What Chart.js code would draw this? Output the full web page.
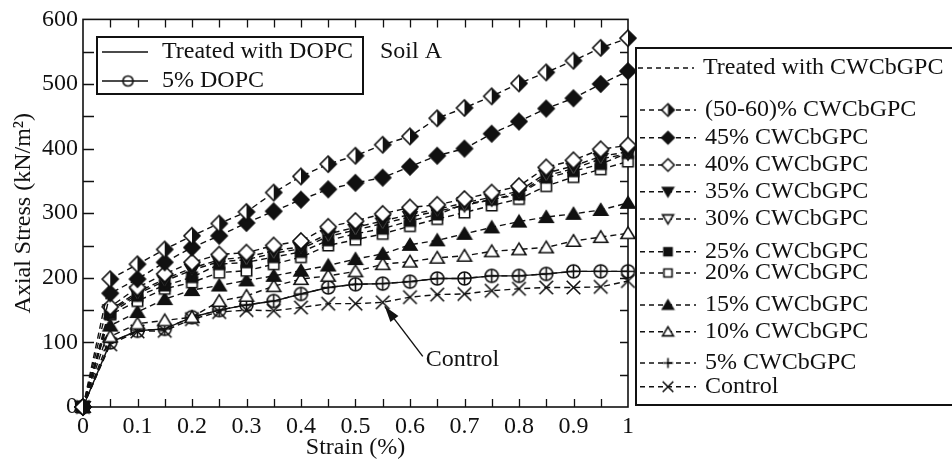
<!DOCTYPE html>
<html>
<head>
<meta charset="utf-8">
<script src="https://cdn.jsdelivr.net/npm/chart.js@4.4.1/dist/chart.umd.min.js"></script>
<style>
  html, body { margin: 0; padding: 0; background: #fff; }
</style>
</head>
<body>
<canvas id="grafico" width="952" height="465"></canvas>
<script>
// dados (Soil A)
const strain = [0, 0.05, 0.1, 0.15, 0.2, 0.25, 0.3, 0.35, 0.4, 0.45, 0.5, 0.55, 0.6, 0.65, 0.7, 0.75, 0.8, 0.85, 0.9, 0.95, 1];
const cw5060 = [0, 198, 221, 244, 265, 284, 302, 332, 357, 376, 389, 406, 419, 447, 463, 481, 501, 518, 536, 556, 571];
const cw45 = [0, 176, 198, 224, 247, 265, 285, 303, 321, 337, 347, 355, 372, 389, 400, 423, 442, 462, 478, 500, 520];
const cw40 = [0, 155, 185, 206, 224, 236, 239, 250, 257, 279, 288, 299, 309, 313, 322, 332, 342, 371, 382, 399, 405];
const cw35 = [0, 150, 178, 198, 215, 228, 232, 242, 248, 268, 278, 288, 298, 306, 316, 325, 334, 362, 373, 388, 395];
const cw30 = [0, 148, 175, 195, 212, 225, 228, 238, 245, 264, 274, 284, 294, 303, 312, 321, 331, 358, 369, 384, 392];
const cw25 = [0, 145, 172, 188, 201, 221, 224, 232, 240, 258, 268, 276, 288, 298, 314, 321, 329, 355, 365, 376, 393];
const cw20 = [0, 143, 164, 183, 193, 208, 211, 221, 232, 250, 259, 268, 280, 291, 301, 312, 322, 342, 356, 368, 380];
const cw15 = [0, 126, 147, 167, 181, 188, 196, 203, 211, 219, 229, 237, 251, 258, 268, 278, 287, 294, 299, 305, 316];
const cw10 = [0, 109, 129, 134, 139, 164, 172, 187, 198, 203, 210, 221, 225, 231, 234, 241, 244, 247, 257, 263, 269];
const cw5 = [0, 100, 118, 121, 139, 150, 158, 164, 175, 185, 190, 191, 194, 199, 199, 203, 203, 206, 210, 210, 210];
const controle = [0, 97, 117, 118, 136, 147, 150, 149, 154, 160, 160, 162, 170, 174, 175, 180, 183, 185, 185, 186, 195];
const dopc5 = [0, 100, 118, 121, 139, 150, 158, 164, 175, 185, 190, 191, 194, 199, 199, 203, 203, 206, 210, 210, 210];

const rotulosX = ['0', '0.1', '0.2', '0.3', '0.4', '0.5', '0.6', '0.7', '0.8', '0.9', '1'];
const rotulosY = ['0', '100', '200', '300', '400', '500', '600'];

const cor = '#111';
const fonte = "'Liberation Serif', 'Times New Roman', serif";

// desenha os marcadores num canvas pequeno
function marcador(forma, cheio, r) {
    const s = Math.ceil(r * 2 + 4);
    const c = document.createElement('canvas');
    c.width = s;
    c.height = s;
    const g = c.getContext('2d');
    g.translate(s / 2, s / 2);
    g.lineWidth = 1.6;
    g.strokeStyle = cor;
    g.fillStyle = cheio ? cor : '#fff';
    g.beginPath();
    if (forma === 'losango' || forma === 'meio') {
        g.moveTo(0, -r); g.lineTo(r, 0); g.lineTo(0, r); g.lineTo(-r, 0); g.closePath();
        g.fill();
        if (forma === 'meio') {
            g.save();
            g.fillStyle = cor;
            g.beginPath();
            g.moveTo(0, -r); g.lineTo(r, 0); g.lineTo(0, r); g.closePath();
            g.fill();
            g.restore();
            g.beginPath();
            g.moveTo(0, -r); g.lineTo(r, 0); g.lineTo(0, r); g.lineTo(-r, 0); g.closePath();
        }
        g.stroke();
    } else if (forma === 'triCima') {
        g.moveTo(0, -r * 0.9); g.lineTo(r, r * 0.75); g.lineTo(-r, r * 0.75); g.closePath();
        g.fill(); g.stroke();
    } else if (forma === 'triBaixo') {
        g.moveTo(0, r * 0.9); g.lineTo(r, -r * 0.75); g.lineTo(-r, -r * 0.75); g.closePath();
        g.fill(); g.stroke();
    } else if (forma === 'quadrado') {
        const q = r * 0.8;
        g.rect(-q, -q, q * 2, q * 2);
        g.fill(); g.stroke();
    } else if (forma === 'circulo') {
        g.arc(0, 0, r, 0, Math.PI * 2);
        g.stroke();
    } else if (forma === 'mais') {
        g.moveTo(-r, 0); g.lineTo(r, 0); g.moveTo(0, -r); g.lineTo(0, r);
        g.stroke();
    } else if (forma === 'xis') {
        const q = r * 0.8;
        g.moveTo(-q, -q); g.lineTo(q, q); g.moveTo(q, -q); g.lineTo(-q, q);
        g.stroke();
    }
    return c;
}

function serie(label, valores, forma, cheio, r, solido) {
    return {
        label: label,
        data: strain.map((x, i) => ({ x: x, y: valores[i] })),
        borderColor: cor,
        borderWidth: 1.4,
        borderDash: solido ? [] : [6, 4],
        pointStyle: marcador(forma, cheio, r),
        legenda: marcador(forma, cheio, r * 0.78),
        pointRadius: r,
        pointHoverRadius: r,
        solido: solido,
        clip: false,
        fill: false
    };
}

const datasets = [
    serie('(50-60)% CWCbGPC', cw5060, 'meio', false, 8, false),
    serie('45% CWCbGPC', cw45, 'losango', true, 8, false),
    serie('40% CWCbGPC', cw40, 'losango', false, 8, false),
    serie('35% CWCbGPC', cw35, 'triBaixo', true, 7, false),
    serie('30% CWCbGPC', cw30, 'triBaixo', false, 7, false),
    serie('25% CWCbGPC', cw25, 'quadrado', true, 6.5, false),
    serie('20% CWCbGPC', cw20, 'quadrado', false, 6.5, false),
    serie('15% CWCbGPC', cw15, 'triCima', true, 7, false),
    serie('10% CWCbGPC', cw10, 'triCima', false, 7, false),
    serie('5% CWCbGPC', cw5, 'mais', false, 6.5, false),
    serie('Control', controle, 'xis', false, 8.5, false),
    serie('5% DOPC', dopc5, 'circulo', false, 6.5, true)
];

// moldura com ticks para dentro nos quatro lados
const moldura = {
    id: 'moldura',
    beforeDatasetsDraw(chart) {
        const { ctx, chartArea: a, scales } = chart;
        ctx.save();
        ctx.strokeStyle = cor;
        ctx.lineWidth = 1.6;
        ctx.strokeRect(a.left, a.top, a.right - a.left, a.bottom - a.top);
        ctx.lineWidth = 1.3;
        ctx.beginPath();
        for (let v = 0.05; v < 1; v += 0.05) {
            const px = Math.round(scales.x.getPixelForValue(v)) + 0.5;
            ctx.moveTo(px, a.bottom); ctx.lineTo(px, a.bottom - 8);
            ctx.moveTo(px, a.top); ctx.lineTo(px, a.top + 8);
        }
        for (let v = 50; v < 600; v += 50) {
            const py = Math.round(scales.y.getPixelForValue(v)) + 0.5;
            ctx.moveTo(a.left, py); ctx.lineTo(a.left + 11, py);
            ctx.moveTo(a.right, py); ctx.lineTo(a.right - 8, py);
        }
        ctx.stroke();
        ctx.restore();
    },
    afterDraw(chart) {
        const { ctx, scales } = chart;
        const ds = chart.data.datasets;
        ctx.save();
        ctx.font = '24px ' + fonte;
        ctx.fillStyle = cor;
        ctx.strokeStyle = cor;
        ctx.textBaseline = 'middle';

        // legenda de dentro (DOPC)
        ctx.lineWidth = 2;
        ctx.strokeRect(97, 37, 266, 57);
        ctx.lineWidth = 1.4;
        ctx.setLineDash([]);
        ctx.beginPath();
        ctx.moveTo(102, 52); ctx.lineTo(148, 52);
        ctx.moveTo(102, 81); ctx.lineTo(148, 81);
        ctx.stroke();
        const dopc = ds[ds.length - 1];
        ctx.drawImage(dopc.legenda, 128 - dopc.legenda.width / 2, 81 - dopc.legenda.height / 2);
        ctx.fillText('Treated with DOPC', 162, 52);
        ctx.fillText(dopc.label, 162, 81);
        ctx.fillText('Soil A', 380, 52);

        // legenda da direita (CWCbGPC)
        ctx.lineWidth = 2;
        ctx.strokeRect(636, 48, 330, 357);
        ctx.lineWidth = 1.4;
        ctx.setLineDash([5, 4]);
        ctx.beginPath();
        ctx.moveTo(638, 68); ctx.lineTo(694, 68);
        ctx.stroke();
        ctx.fillText('Treated with CWCbGPC', 703, 68);
        const linhas = [110, 137.7, 165, 191.7, 219, 251.7, 273, 305, 331.7, 363, 386.7];
        for (let i = 0; i < ds.length - 1; i++) {
            const y = linhas[i];
            ctx.beginPath();
            ctx.moveTo(640, y); ctx.lineTo(696, y);
            ctx.stroke();
            const m = ds[i].legenda;
            ctx.drawImage(m, 668 - m.width / 2, y - m.height / 2);
            ctx.fillText(ds[i].label, 705, y);
        }
        ctx.setLineDash([]);

        // seta do Control
        const ctl = ds[10].data[11];
        const tx = scales.x.getPixelForValue(ctl.x) + 2;
        const ty = scales.y.getPixelForValue(ctl.y) + 4;
        const bx = tx + 38, by = ty + 50;
        ctx.lineWidth = 1.4;
        ctx.beginPath();
        ctx.moveTo(bx, by); ctx.lineTo(tx, ty);
        ctx.stroke();
        const ang = Math.atan2(ty - by, tx - bx);
        ctx.beginPath();
        ctx.moveTo(tx, ty);
        ctx.lineTo(tx - 16 * Math.cos(ang) + 5 * Math.sin(ang), ty - 16 * Math.sin(ang) - 5 * Math.cos(ang));
        ctx.lineTo(tx - 16 * Math.cos(ang) - 5 * Math.sin(ang), ty - 16 * Math.sin(ang) + 5 * Math.cos(ang));
        ctx.closePath();
        ctx.fill();
        ctx.fillText('Control', bx + 3, by + 3);
        ctx.restore();
    }
};

const ctx = document.getElementById('grafico');

new Chart(ctx, {
    type: 'line',
    data: { datasets: datasets },
    options: {
        responsive: false,
        devicePixelRatio: 1,
        animation: false,
        layout: { padding: { top: 17, right: 324, bottom: 0, left: 0 } },
        plugins: {
            legend: { display: false },
            tooltip: { enabled: false }
        },
        scales: {
            x: {
                type: 'linear',
                min: 0,
                max: 1,
                grid: { display: false, drawTicks: false },
                border: { display: false },
                ticks: {
                    stepSize: 0.1,
                    autoSkip: false,
                    maxRotation: 0,
                    padding: 5,
                    color: cor,
                    font: { family: fonte, size: 24 },
                    callback: (v, i) => rotulosX[i]
                },
                title: {
                    display: true,
                    text: 'Strain (%)',
                    color: cor,
                    font: { family: fonte, size: 24 },
                    padding: { top: 0, bottom: 3 }
                },
                afterFit: (s) => { s.height = 58; }
            },
            y: {
                type: 'linear',
                min: 0,
                max: 600,
                grid: { display: false, drawTicks: false },
                border: { display: false },
                ticks: {
                    stepSize: 100,
                    padding: 5,
                    color: cor,
                    font: { family: fonte, size: 24 },
                    callback: (v, i) => rotulosY[i]
                },
                title: {
                    display: true,
                    text: 'Axial Stress (kN/m²)',
                    color: cor,
                    font: { family: fonte, size: 24 },
                    padding: { top: 9, bottom: 0 }
                },
                afterFit: (s) => { s.width = 83; }
            }
        }
    },
    plugins: [moldura]
});
</script>
</body>
</html>
